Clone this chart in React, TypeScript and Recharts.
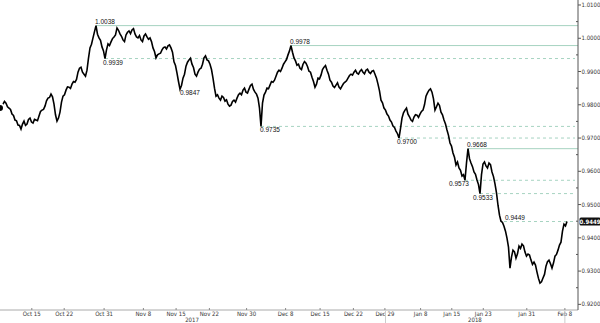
import React from 'react';
import { ComposedChart, Line, XAxis, YAxis, ReferenceLine } from 'recharts';

// price series (one reading every ~1.5px of the original chart)
const prices: number[] = [
  0.9790, 0.9784, 0.9802, 0.9810, 0.9805, 0.9794, 0.9790, 0.9786, 0.9772, 0.9768,
  0.9754, 0.9752, 0.9739, 0.9738, 0.9727, 0.9742, 0.9751, 0.9738, 0.9742, 0.9756,
  0.9760, 0.9748, 0.9745, 0.9756, 0.9754, 0.9752, 0.9766, 0.9780, 0.9784, 0.9786,
  0.9796, 0.9812, 0.9820, 0.9822, 0.9832, 0.9824, 0.9802, 0.9770, 0.9751, 0.9760,
  0.9778, 0.9808, 0.9826, 0.9830, 0.9844, 0.9854, 0.9853, 0.9849, 0.9862, 0.9870,
  0.9868, 0.9876, 0.9898, 0.9910, 0.9913, 0.9898, 0.9892, 0.9886, 0.9904, 0.9940,
  0.9971, 0.9982, 1.0001, 1.0020, 1.0038, 1.0012, 1.0001, 0.9994, 0.9974, 0.9962,
  0.9939, 0.9965, 0.9983, 0.9978, 0.9989, 0.9999, 1.0004, 1.0010, 1.0031, 1.0024,
  1.0013, 1.0006, 0.9995, 0.9990, 1.0010, 1.0018, 1.0022, 1.0014, 1.0025, 1.0029,
  1.0013, 1.0004, 1.0001, 1.0008, 0.9995, 0.9990, 1.0007, 1.0013, 1.0004, 0.9997,
  1.0001, 0.9990, 0.9971, 0.9960, 0.9941, 0.9950, 0.9953, 0.9955, 0.9965, 0.9972,
  0.9974, 0.9968, 0.9977, 0.9980, 0.9971, 0.9958, 0.9929, 0.9918, 0.9895, 0.9870,
  0.9847, 0.9858, 0.9880, 0.9892, 0.9916, 0.9928, 0.9935, 0.9940, 0.9922, 0.9912,
  0.9892, 0.9886, 0.9898, 0.9907, 0.9910, 0.9922, 0.9941, 0.9947, 0.9935, 0.9932,
  0.9922, 0.9906, 0.9880, 0.9850, 0.9826, 0.9830, 0.9820, 0.9814, 0.9826, 0.9822,
  0.9811, 0.9815, 0.9802, 0.9796, 0.9799, 0.9810, 0.9814, 0.9808, 0.9820, 0.9830,
  0.9835, 0.9830, 0.9844, 0.9850, 0.9838, 0.9835, 0.9847, 0.9858, 0.9862, 0.9846,
  0.9838, 0.9832, 0.9820, 0.9790, 0.9735, 0.9805, 0.9829, 0.9838, 0.9850, 0.9848,
  0.9859, 0.9870, 0.9868, 0.9874, 0.9886, 0.9898, 0.9904, 0.9900, 0.9910, 0.9922,
  0.9929, 0.9936, 0.9950, 0.9962, 0.9978, 0.9958, 0.9941, 0.9932, 0.9919, 0.9922,
  0.9910, 0.9906, 0.9922, 0.9930, 0.9925, 0.9915, 0.9901, 0.9898, 0.9883, 0.9870,
  0.9853, 0.9862, 0.9880, 0.9878, 0.9889, 0.9906, 0.9913, 0.9918, 0.9904, 0.9892,
  0.9874, 0.9868, 0.9856, 0.9852, 0.9859, 0.9866, 0.9853, 0.9848, 0.9856, 0.9864,
  0.9868, 0.9872, 0.9880, 0.9888, 0.9892, 0.9889, 0.9898, 0.9904, 0.9895, 0.9892,
  0.9901, 0.9906, 0.9898, 0.9893, 0.9904, 0.9907, 0.9898, 0.9894, 0.9901, 0.9903,
  0.9892, 0.9880, 0.9862, 0.9842, 0.9814, 0.9806, 0.9790, 0.9784, 0.9772, 0.9766,
  0.9754, 0.9748, 0.9736, 0.9732, 0.9721, 0.9713, 0.9700, 0.9728, 0.9760, 0.9776,
  0.9784, 0.9790, 0.9772, 0.9764, 0.9754, 0.9750, 0.9763, 0.9770, 0.9769, 0.9762,
  0.9772, 0.9780, 0.9784, 0.9800, 0.9826, 0.9836, 0.9844, 0.9848, 0.9838, 0.9818,
  0.9784, 0.9794, 0.9805, 0.9798, 0.9778, 0.9770, 0.9754, 0.9742, 0.9724, 0.9708,
  0.9685, 0.9676, 0.9655, 0.9642, 0.9619, 0.9628, 0.9610, 0.9603, 0.9586, 0.9590,
  0.9573, 0.9625, 0.9668, 0.9638, 0.9625, 0.9614, 0.9598, 0.9591, 0.9574, 0.9560,
  0.9533, 0.9590, 0.9622, 0.9628, 0.9616, 0.9610, 0.9625, 0.9620, 0.9598, 0.9584,
  0.9562, 0.9535, 0.9498, 0.9468, 0.9450, 0.9446, 0.9435, 0.9420, 0.9399, 0.9372,
  0.9309, 0.9342, 0.9363, 0.9358, 0.9339, 0.9352, 0.9375, 0.9368, 0.9381, 0.9376,
  0.9357, 0.9345, 0.9351, 0.9348, 0.9333, 0.9320, 0.9327, 0.9318, 0.9297, 0.9278,
  0.9264, 0.9268, 0.9279, 0.9290, 0.9315, 0.9328, 0.9333, 0.9322, 0.9309, 0.9324,
  0.9345, 0.9350, 0.9363, 0.9378, 0.9387, 0.9420, 0.9441, 0.9436, 0.9449,
];

const dateTickPos: number[] = [10.6, 21.4, 34.7, 47.8, 58.7, 69.8, 82.2, 95.2, 106.7, 117.8, 128.3, 140.2, 150.6, 161.1, 175.6, 188.3];
const dateTickLabels: string[] = ['Oct 15', 'Oct 22', 'Oct 31', 'Nov 8', 'Nov 15', 'Nov 22', 'Nov 30', 'Dec 8', 'Dec 15', 'Dec 22', 'Dec 29', 'Jan 8', 'Jan 15', 'Jan 23', 'Jan 31', 'Feb 8'];
const yearTickPos: number[] = [64, 158.3];
const yearLabels: string[] = ['2017', '2018'];
const markerPos: number[] = [128.5, 188.3];

const yTicks: number[] = [
  0.92, 0.925, 0.93, 0.935, 0.94, 0.945, 0.95, 0.955, 0.96, 0.965,
  0.97, 0.975, 0.98, 0.985, 0.99, 0.995, 1.0, 1.005, 1.01,
];

const levelValues: number[] = [1.0038, 0.9939, 0.9847, 0.9978, 0.9735, 0.9700, 0.9668, 0.9573, 0.9533, 0.9449];
const levelStartIdx: number[] = [32, 35, 60, 97, 87, 133, 156, 155, 160, 168];
const lastValue = 0.9449;

// styles for each level (same order as levelValues)
const levelKind = ['solid', 'dashed', 'none', 'solid', 'dashed', 'dashed', 'solid', 'dashed', 'dashed', 'dashed'];
const levelSide = ['above', 'below', 'below', 'above', 'below', 'below', 'above', 'below', 'below', 'above'];
const levelDx = [-1, -2, 0, -1, -1, -2, -1, -16, -7, 1];

const X_MAX = 192.67;
const DASH_END = 191.67;
const Y_DOMAIN: [number, number] = [0.9183, 1.0115];

const FONT_NARROW = '"Liberation Sans Narrow", "DejaVu Sans Condensed", "Liberation Sans", sans-serif';
const FONT_LABEL = '"Liberation Sans", Arial, sans-serif';
const LEVEL_COLOR = '#a6d3c1';

const data = prices.map((p, j) => ({ i: j / 2, p }));

const DateTick = (props: any) => {
  const { x, y, index } = props;
  return (
    <g>
      <line x1={x} x2={x} y1={y - 2} y2={y} stroke="#888" strokeWidth={1} />
      <text x={x} y={y + 6} textAnchor="middle" fontSize={6} fill="#333" fontFamily={FONT_NARROW}>
        {dateTickLabels[index]}
      </text>
    </g>
  );
};

const YearTick = (props: any) => {
  const { x, y, payload } = props;
  const yi = yearTickPos.indexOf(payload.value);
  if (yi >= 0) {
    return (
      <text x={x} y={y + 5} textAnchor="middle" fontSize={6} fill="#333" fontFamily={FONT_NARROW}>
        {yearLabels[yi]}
      </text>
    );
  }
  return <line x1={x} x2={x} y1={y - 6} y2={y + 6} stroke="#ccc" strokeWidth={1} />;
};

const PriceTick = (props: any) => {
  const { x, y, payload } = props;
  const v = payload.value as number;
  const major = Math.round(v * 1000) % 10 === 0;
  if (!major) {
    return <line x1={x - 2} x2={x} y1={y} y2={y} stroke="#555" strokeWidth={1} />;
  }
  return (
    <g>
      <line x1={x} x2={x + 3} y1={y} y2={y} stroke="#555" strokeWidth={1} />
      <text x={x + 3.5} y={y + 2} fontSize={6} fill="#333" fontFamily={FONT_NARROW}>
        {v.toFixed(4)}
      </text>
    </g>
  );
};

const makeLevelLabel = (k: number) => (props: any) => {
  const vb = props.viewBox || {};
  const x = (vb.x ?? 0) + levelDx[k];
  const y = (vb.y ?? 0) + (levelSide[k] === 'above' ? -1.5 : 6);
  return (
    <text x={x} y={y} fontSize={6.5} fill="#111" fontFamily={FONT_LABEL}>
      {levelValues[k].toFixed(4)}
    </text>
  );
};

const LastBadge = (props: any) => {
  const vb = props.viewBox || {};
  const x = (vb.x ?? 0) + (vb.width ?? 0) + 1.5;
  const y = vb.y ?? 0;
  return (
    <g>
      <rect x={x} y={y - 4} width={21} height={8} rx={1.5} fill="#111" />
      <text x={x + 10.5} y={y + 2.2} textAnchor="middle" fontSize={6} fontWeight="bold" fill="#fff" fontFamily={FONT_NARROW}>
        {lastValue.toFixed(4)}
      </text>
    </g>
  );
};

export default function App() {
  return (
    <div style={{ position: 'absolute', left: 0, top: 0, width: 600, height: 323, background: '#fff' }}>
      <ComposedChart width={600} height={323} data={data} margin={{ top: 0, right: 0, bottom: 0, left: 0 }}>
        <XAxis
          dataKey="i"
          type="number"
          domain={[0, X_MAX]}
          ticks={dateTickPos}
          interval={0}
          height={7}
          tickSize={0}
          tickMargin={0}
          tickLine={false}
          axisLine={{ stroke: '#aaa' }}
          tick={<DateTick />}
        />
        <XAxis
          xAxisId="yr"
          dataKey="i"
          type="number"
          domain={[0, X_MAX]}
          ticks={[...yearTickPos, ...markerPos]}
          interval={0}
          height={6}
          tickSize={0}
          tickMargin={0}
          tickLine={false}
          axisLine={false}
          tick={<YearTick />}
        />
        <YAxis
          orientation="right"
          type="number"
          domain={Y_DOMAIN}
          ticks={yTicks}
          interval={0}
          width={22}
          tickSize={0}
          tickMargin={0}
          tickLine={false}
          axisLine={{ stroke: '#555' }}
          tick={<PriceTick />}
        />
        {levelValues.map((v, k) => (
          <ReferenceLine
            key={'lv' + k}
            segment={[
              { x: levelStartIdx[k], y: v },
              { x: levelKind[k] === 'solid' ? X_MAX : DASH_END, y: v },
            ]}
            stroke={levelKind[k] === 'none' ? 'none' : LEVEL_COLOR}
            strokeWidth={1}
            strokeDasharray={levelKind[k] === 'dashed' ? '3 3' : undefined}
            ifOverflow="visible"
            label={makeLevelLabel(k)}
          />
        ))}
        <ReferenceLine y={lastValue} stroke="none" ifOverflow="visible" label={<LastBadge />} />
        <Line
          type="linear"
          dataKey="p"
          stroke="#000"
          strokeWidth={1.6}
          dot={false}
          isAnimationActive={false}
        />
      </ComposedChart>
    </div>
  );
}
